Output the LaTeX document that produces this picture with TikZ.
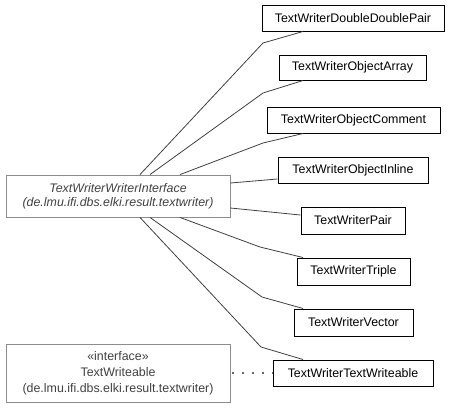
\documentclass[tikz,border=0pt]{standalone}
\usepackage{fontspec}
\setmainfont{Liberation Sans}
\begin{document}
\begin{tikzpicture}[x=1pt,y=-1pt,
  cls/.style={draw=black,line width=1pt,inner sep=0pt,minimum height=26pt,font=\fontsize{12.4}{14}\selectfont,text=black},
  gcls/.style={draw=gray!90,line width=0.9pt,inner sep=0pt,align=center,text=black!75,minimum width=224pt},
  edge/.style={draw=black!75,line width=0.8pt}]
\useasboundingbox (0,0) rectangle (451,408);
\node[gcls,minimum height=42pt,font=\fontsize{12.4}{14}\selectfont\itshape] (iface) at (118,196) {TextWriterWriterInterface\\(de.lmu.ifi.dbs.elki.result.textwriter)};
\node[gcls,minimum height=58pt,font=\fontsize{12.4}{16}\selectfont] (twa) at (118,373) {«interface»\\TextWriteable\\(de.lmu.ifi.dbs.elki.result.textwriter)};
\node[cls,minimum width=182pt] (ddp) at (353,18) {TextWriterDoubleDoublePair};
\node[cls,minimum width=147pt,minimum height=25pt] (oa) at (352.5,67.5) {TextWriterObjectArray};
\node[cls,minimum width=173pt] (oc) at (353.5,120) {TextWriterObjectComment};
\node[cls,minimum width=150pt] (oi) at (353,170) {TextWriterObjectInline};
\node[cls,minimum width=104pt,minimum height=27pt] (pair) at (353,220.5) {TextWriterPair};
\node[cls,minimum width=113pt,minimum height=27pt] (triple) at (353.5,271.5) {TextWriterTriple};
\node[cls,minimum width=119pt,minimum height=27pt] (vector) at (353.5,322.5) {TextWriterVector};
\node[cls,minimum width=160pt] (tw) at (353,373) {TextWriterTextWriteable};
\draw[edge] ([xshift=22pt]iface.north) -- (263,43) -- ([xshift=-50pt]ddp.south);
\draw[edge] ([xshift=32pt]iface.north) -- (263,93) -- ([xshift=-49.5pt]oa.south);
\draw[edge] ([xshift=62pt]iface.north) -- (263,143) -- ([xshift=-50.5pt]oc.south);
\draw[edge] ([yshift=13pt]iface.east) -- ([yshift=-9pt]oi.west);
\draw[edge] ([yshift=-12pt]iface.east) -- ([yshift=5.5pt]pair.west);
\draw[edge] ([xshift=62pt]iface.south) -- (260,247) -- ([xshift=-50.5pt]triple.north);
\draw[edge] ([xshift=32pt]iface.south) -- (262,297) -- ([xshift=-50.5pt]vector.north);
\draw[edge] ([xshift=22pt]iface.south) -- (261,347) -- ([xshift=-50pt]tw.north);
\draw[draw=black!60,line width=1.3pt,dash pattern=on 1.5pt off 8.5pt,dash phase=-2pt] (twa.east) -- (tw.west);
\end{tikzpicture}
\end{document}
